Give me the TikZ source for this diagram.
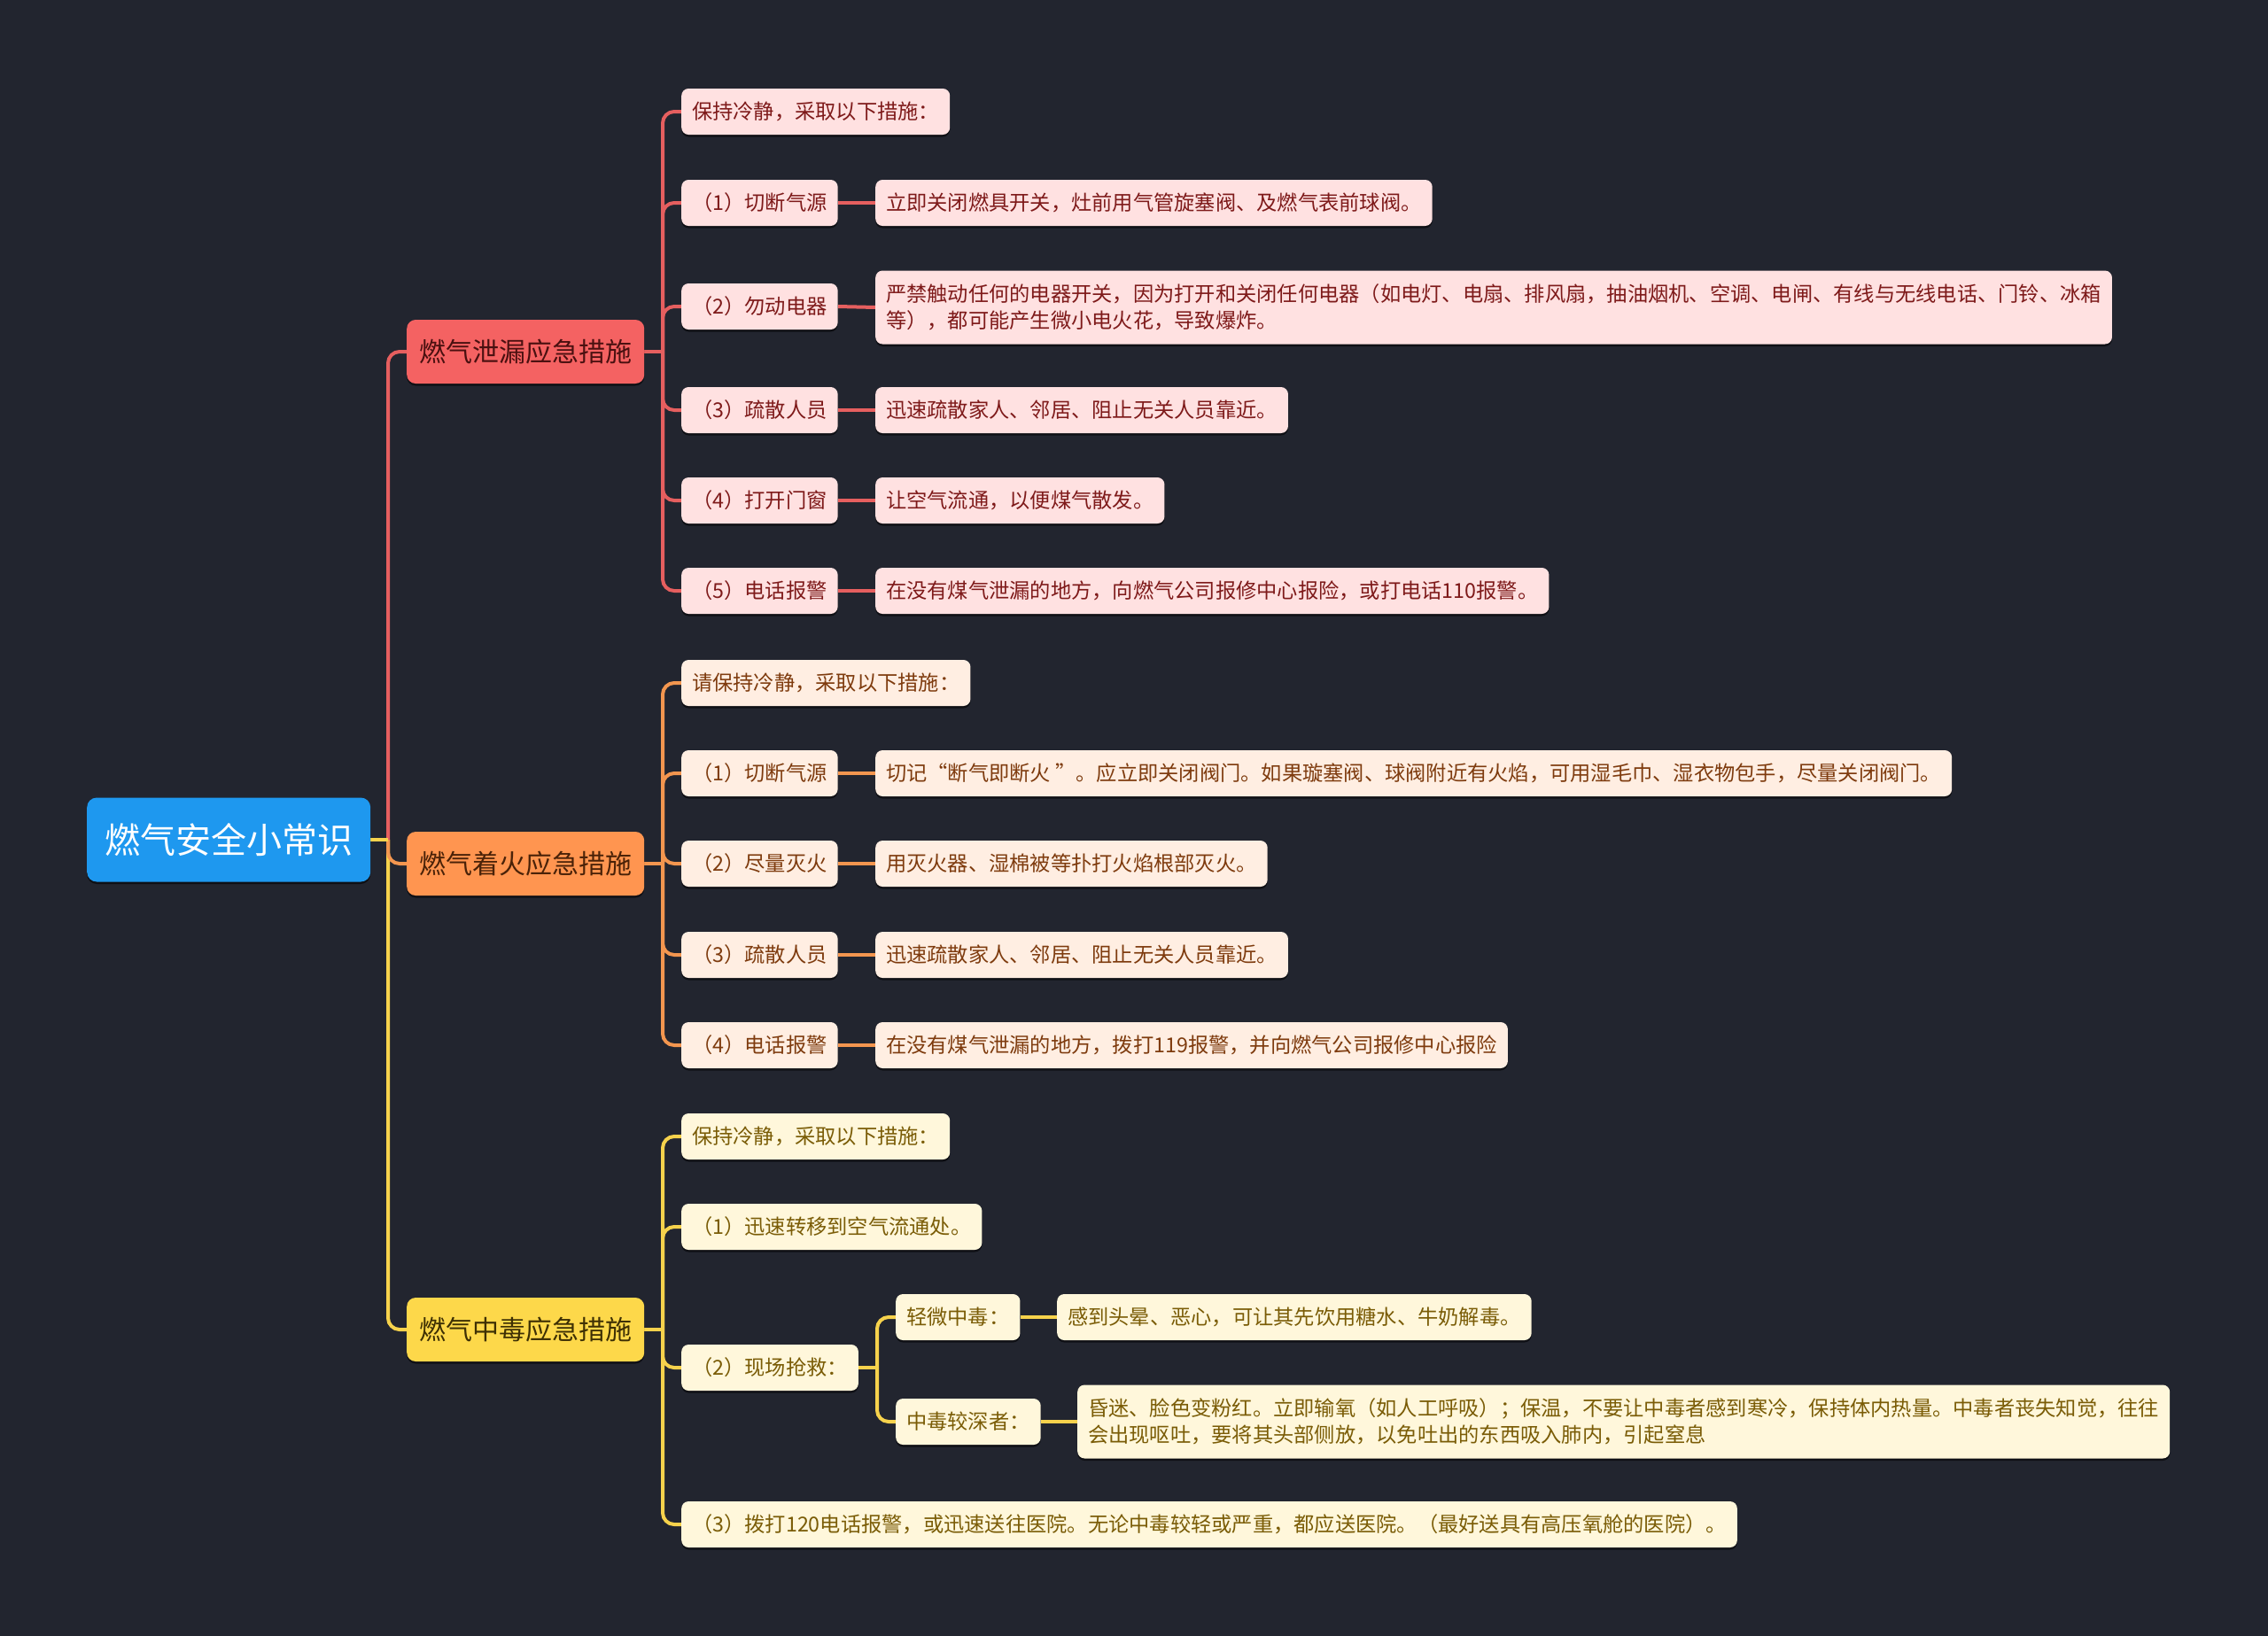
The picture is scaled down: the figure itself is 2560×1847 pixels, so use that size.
\documentclass[tikz,border=0pt]{standalone}
\usepackage{fontspec}
\setmainfont{Noto Sans CJK SC}
\usetikzlibrary{shadows}
\definecolor{bgc}{HTML}{22252F}
\definecolor{rootc}{HTML}{1E98EF}
\definecolor{redm}{HTML}{F46262}
\definecolor{orgm}{HTML}{FF9550}
\definecolor{yelm}{HTML}{FDD84A}
\definecolor{redl}{HTML}{E65F5F}
\definecolor{orgl}{HTML}{F3964F}
\definecolor{yell}{HTML}{F6D24C}
\definecolor{redf}{HTML}{FFE1E1}
\definecolor{orgf}{HTML}{FFEEE2}
\definecolor{yelf}{HTML}{FFF7DB}
\definecolor{redt}{HTML}{7E1A1A}
\definecolor{orgt}{HTML}{7E3B0E}
\definecolor{yelt}{HTML}{7A5C06}
\definecolor{redmt}{HTML}{4A1010}
\definecolor{orgmt}{HTML}{4A2208}
\definecolor{yelmt}{HTML}{3E3004}
\pgfdeclarelayer{back}
\pgfsetlayers{back,main}
\tikzset{
  shad/.style={drop shadow={shadow xshift=0pt,shadow yshift=-2.5pt,opacity=.55,fill=black}},
  boxbase/.style={anchor=west, rounded corners=8pt, shad, inner xsep=12pt, inner ysep=0pt,
    font=\fontsize{23.25}{30}\selectfont, minimum height=52pt, text height=20pt, text depth=2.5pt},
  multibox/.style={anchor=west, rounded corners=8pt, shad, inner xsep=12pt, inner ysep=14pt,
    font=\fontsize{23.25}{30}\selectfont, align=left, minimum height=83pt},
  rbox/.style={boxbase, fill=redf, text=redt},
  obox/.style={boxbase, fill=orgf, text=orgt},
  ybox/.style={boxbase, fill=yelf, text=yelt},
  rmulti/.style={multibox, fill=redf, text=redt},
  ymulti/.style={multibox, fill=yelf, text=yelt},
  mainbox/.style={anchor=west, rounded corners=10pt, shad, inner xsep=14pt, inner ysep=0pt,
    font=\fontsize{30}{36}\selectfont, minimum height=72pt, text height=26pt, text depth=3pt},
  rootbox/.style={anchor=west, rounded corners=11pt, shad, fill=rootc, text=white, inner xsep=20pt,
    inner ysep=0pt, font=\fontsize{40}{48}\selectfont, minimum height=95pt, text height=34pt, text depth=4pt},
  lr/.style={draw=redl, line width=4pt},
  lo/.style={draw=orgl, line width=4pt},
  ly/.style={draw=yell, line width=4pt},
  rc/.style={rounded corners=13pt},
}
\begin{document}
\begin{tikzpicture}[x=1pt,y=-1pt]
\begin{pgfonlayer}{back}
\fill[bgc] (0,0) rectangle (2560,1847);
\end{pgfonlayer}
\useasboundingbox (0,0) rectangle (2560,1847);

% root and main branches
\node[rootbox] (root) at (98,948) {燃气安全小常识};
\node[mainbox, fill=redm, text=redmt] (b1) at (459,397) {燃气泄漏应急措施};
\node[mainbox, fill=orgm, text=orgmt] (b2) at (459,975) {燃气着火应急措施};
\node[mainbox, fill=yelm, text=yelmt] (b3) at (459,1501) {燃气中毒应急措施};

\coordinate (t0) at (438,948);
\coordinate (t1) at (748,397);
\coordinate (t2) at (748,975);
\coordinate (t3) at (748,1501);
\coordinate (t32) at (990,1544);

% branch 1
\node[rbox] (a0) at (769,126) {保持冷静，采取以下措施：};
\node[rbox] (a1) at (769,229) {（1）切断气源};
\node[rbox] (a2) at (769,346) {（2）勿动电器};
\node[rbox] (a3) at (769,463) {（3）疏散人员};
\node[rbox] (a4) at (769,565) {（4）打开门窗};
\node[rbox] (a5) at (769,667) {（5）电话报警};
\node[rbox] (a1d) at (988,229) {立即关闭燃具开关，灶前用气管旋塞阀、及燃气表前球阀。};
\node[rmulti] (a2d) at (988,347) {严禁触动任何的电器开关，因为打开和关闭任何电器（如电灯、电扇、排风扇，抽油烟机、空调、电闸、有线与无线电话、门铃、冰箱\\等），都可能产生微小电火花，导致爆炸。};
\node[rbox] (a3d) at (988,463) {迅速疏散家人、邻居、阻止无关人员靠近。};
\node[rbox] (a4d) at (988,565) {让空气流通，以便煤气散发。};
\node[rbox] (a5d) at (988,667) {在没有煤气泄漏的地方，向燃气公司报修中心报险，或打电话110报警。};

% branch 2
\node[obox] (o0) at (769,771) {请保持冷静，采取以下措施：};
\node[obox] (o1) at (769,873) {（1）切断气源};
\node[obox] (o2) at (769,975) {（2）尽量灭火};
\node[obox] (o3) at (769,1078) {（3）疏散人员};
\node[obox] (o4) at (769,1180) {（4）电话报警};
\node[obox] (o1d) at (988,873) {切记“断气即断火 ”。应立即关闭阀门。如果璇塞阀、球阀附近有火焰，可用湿毛巾、湿衣物包手，尽量关闭阀门。};
\node[obox] (o2d) at (988,975) {用灭火器、湿棉被等扑打火焰根部灭火。};
\node[obox] (o3d) at (988,1078) {迅速疏散家人、邻居、阻止无关人员靠近。};
\node[obox] (o4d) at (988,1180) {在没有煤气泄漏的地方，拨打119报警，并向燃气公司报修中心报险};

% branch 3
\node[ybox] (y0) at (769,1283) {保持冷静，采取以下措施：};
\node[ybox] (y1) at (769,1385) {（1）迅速转移到空气流通处。};
\node[ybox] (y2) at (769,1544) {（2）现场抢救：};
\node[ybox] (y3) at (769,1721) {（3）拨打120电话报警，或迅速送往医院。无论中毒较轻或严重，都应送医院。（最好送具有高压氧舱的医院）。};
\node[ybox] (y21) at (1011,1487) {轻微中毒：};
\node[ybox] (y22) at (1011,1605) {中毒较深者：};
\node[ybox] (y21d) at (1193,1487) {感到头晕、恶心，可让其先饮用糖水、牛奶解毒。};
\node[ymulti] (y22d) at (1216,1605) {昏迷、脸色变粉红。立即输氧（如人工呼吸）；保温，不要让中毒者感到寒冷，保持体内热量。中毒者丧失知觉，往往\\会出现呕吐，要将其头部侧放，以免吐出的东西吸入肺内，引起窒息};

\begin{pgfonlayer}{back}
% root connectors
\draw[lr, rc] (t0) |- (b1.west);
\draw[ly, rc] (t0) |- (b3.west);
\draw[lo, rc] (t0) |- (b2.west);
\draw[ly] (root.east) -- (t0);
% branch 1
\draw[lr] (b1.east) -- (t1);
\foreach \c in {a0,a1,a2,a3,a4,a5} \draw[lr, rc] (t1) |- (\c.west);
\foreach \c in {a1,a2,a3,a4,a5} \draw[lr] (\c.east) -- (\c d.west);
% branch 2
\draw[lo] (b2.east) -- (t2);
\foreach \c in {o0,o1,o2,o3,o4} \draw[lo, rc] (t2) |- (\c.west);
\foreach \c in {o1,o2,o3,o4} \draw[lo] (\c.east) -- (\c d.west);
% branch 3
\draw[ly] (b3.east) -- (t3);
\foreach \c in {y0,y1,y2,y3} \draw[ly, rc] (t3) |- (\c.west);
\draw[ly] (y2.east) -- (t32);
\draw[ly, rc] (t32) |- (y21.west);
\draw[ly, rc] (t32) |- (y22.west);
\draw[ly] (y21.east) -- (y21d.west);
\draw[ly] (y22.east) -- (y22d.west);
\end{pgfonlayer}
\end{tikzpicture}
\end{document}
